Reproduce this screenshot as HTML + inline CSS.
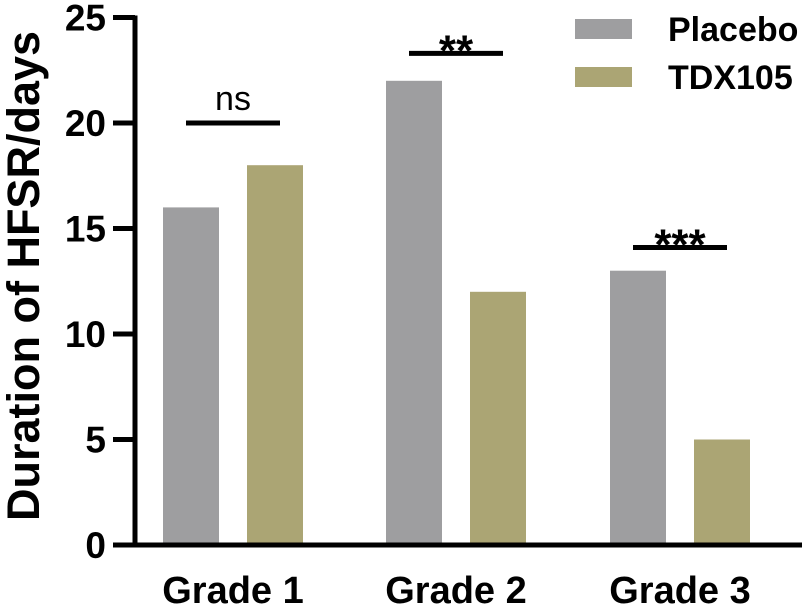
<!DOCTYPE html>
<html><head><meta charset="utf-8"><style>
body{margin:0;background:#fff}
svg{display:block;font-family:"Liberation Sans",Arial,sans-serif}
</style></head><body>
<svg width="802" height="613" viewBox="0 0 802 613">
<g id="bars"></g>
<g id="axes"></g>
<text x="0" y="0" transform="translate(39,276) rotate(-90)" text-anchor="middle" font-size="45" font-weight="bold">Duration of HFSR/days</text>
<rect x="575" y="19" width="57" height="20" fill="#9e9ea0"/>
<text x="668" y="41" font-size="34" font-weight="bold">Placebo</text>
<rect x="575" y="67" width="57" height="20" fill="#aba574"/>
<text x="668" y="89" font-size="34" font-weight="bold">TDX105</text>
<g id="sig"></g>
<script>
const categories=["Grade 1","Grade 2","Grade 3"];
const placebo=[16,22,13];
const tdx105=[18,12,5];
const yTicks=[0,5,10,15,20,25];
const sigLabels=["ns","**","***"];
const sigLevels=[20,23.3,14.1];
const NS="http://www.w3.org/2000/svg";
const y0=545,pxPer=21.1;
function yScale(v){return y0-v*pxPer;}
const groupStart=[163,386,610],barW=56,gap=28;
function mk(tag,attrs,parent,txt){const e=document.createElementNS(NS,tag);for(const k in attrs)e.setAttribute(k,attrs[k]);if(txt!==undefined)e.textContent=txt;parent.appendChild(e);return e;}
const bars=document.getElementById('bars'),axes=document.getElementById('axes'),sig=document.getElementById('sig');
categories.forEach((c,i)=>{
  const x1=groupStart[i],x2=x1+barW+gap;
  let b=mk('rect',{x:x1,y:yScale(placebo[i]),width:barW,height:y0-yScale(placebo[i]),fill:'#9e9ea0'},bars);
  
  
  b=mk('rect',{x:x2,y:yScale(tdx105[i]),width:barW,height:y0-yScale(tdx105[i]),fill:'#aba574'},bars);
  
  
  const cx=(x1+x2+barW)/2;
  const t=mk('text',{x:cx,y:603,'text-anchor':'middle','font-size':38,'font-weight':'bold'},axes,c);
  
  
  const ly=yScale(sigLevels[i]);
  const l=mk('line',{x1:cx-47,x2:cx+47,y1:ly,y2:ly,stroke:'#000','stroke-width':5},sig);
  
  
  const isStar=sigLabels[i]!=='ns';
  const st=mk('text',{x:cx,y:isStar?ly+12:ly-13,'text-anchor':'middle','font-size':isStar?44:34,'font-weight':isStar?'bold':'normal'},sig,sigLabels[i]);
  
  
});
let a=mk('line',{x1:135,x2:135,y1:yScale(25)-2,y2:y0+2,stroke:'#000','stroke-width':5},axes);


a=mk('line',{x1:113,x2:802,y1:y0,y2:y0,stroke:'#000','stroke-width':5},axes);


yTicks.forEach(v=>{
  const y=yScale(v);
  const tk=mk('line',{x1:113,x2:135,y1:y,y2:y,stroke:'#000','stroke-width':5},axes);
  
  
  const tl=mk('text',{x:106,y:y+13,'text-anchor':'end','font-size':37,'font-weight':'bold'},axes,String(v));
  
  
});
</script>
</svg>
</body></html>
